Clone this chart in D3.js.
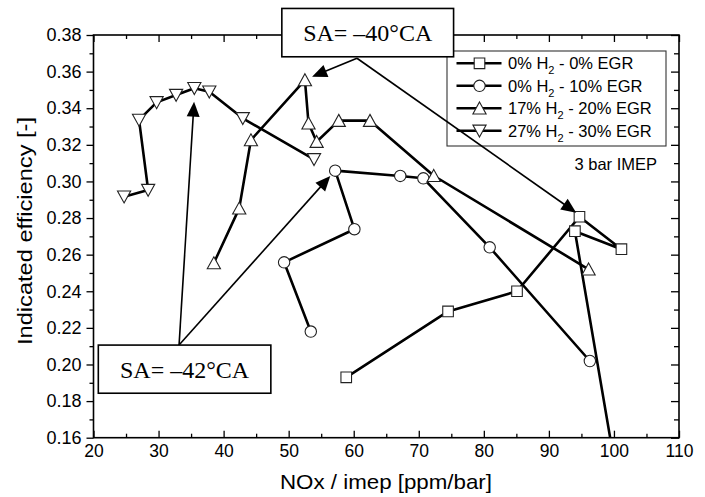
<!DOCTYPE html>
<html><head><meta charset="utf-8">
<script src="https://cdn.jsdelivr.net/npm/d3@7"></script>
<style>body{margin:0;background:#fff} svg{display:block}</style>
</head><body>
<svg id="chart" width="705" height="497"></svg>
<script>
// ---------- data ----------
const seriesLabels = ["0% H", "0% H", "17% H", "27% H"];
const seriesTails = [" - 0% EGR", " - 10% EGR", " - 20% EGR", " - 30% EGR"];
const seriesSymbols = ["square", "circle", "triUp", "triDown"];

const s1x = [58.85, 74.5, 85.1, 94.7, 101.15, 94.0, 99.9];
const s1y = [0.193, 0.229, 0.240, 0.2807, 0.263, 0.2728, 0.150];

const s2x = [53.4, 49.3, 60.1, 57.15, 67.15, 70.7, 80.9, 96.3];
const s2y = [0.218, 0.2558, 0.2739, 0.3059, 0.303, 0.3017, 0.264, 0.2019];

const s3x = [38.5, 42.4, 44.2, 52.5, 53.05, 54.3, 57.7, 62.5, 72.3, 96.1];
const s3y = [0.2554, 0.2853, 0.3226, 0.3554, 0.3318, 0.3217, 0.3332, 0.3332, 0.3031, 0.252];

const s4x = [24.7, 28.4, 27.0, 29.7, 32.7, 35.5, 37.8, 42.95, 53.9];
const s4y = [0.2917, 0.2953, 0.3336, 0.3432, 0.3472, 0.3509, 0.349, 0.3345, 0.3121];

const xMajorTicks = [20, 30, 40, 50, 60, 70, 80, 90, 100, 110];
const xMinorTicks = [25, 35, 45, 55, 65, 75, 85, 95, 105];
const yMajorTicks = [0.16, 0.18, 0.20, 0.22, 0.24, 0.26, 0.28, 0.30, 0.32, 0.34, 0.36, 0.38];
const yMinorTicks = [0.17, 0.19, 0.21, 0.23, 0.25, 0.27, 0.29, 0.31, 0.33, 0.35, 0.37];

const xTitle = "NOx / imep [ppm/bar]";
const yTitle = "Indicated efficiency [-]";
const noteText = "3 bar IMEP";

// annotation boxes (data units) with arrow targets
const annotations = [
  {label: "SA= \u201340\u00B0CA", x0: 48.95, x1: 75.35, yTop: 0.3945, yBot: 0.3681,
   ox: 60.5, oy: 0.3673, tips: [[53.6, 0.3572], [94.2, 0.2829]]},
  {label: "SA= \u201342\u00B0CA", x0: 20.74, x1: 47.26, yTop: 0.2106, yBot: 0.1843,
   ox: 33.15, oy: 0.2106, tips: [[35.46, 0.3436], [56.4, 0.303]]}
];

// ---------- chart ----------
const svg = d3.select("#chart");
const L = 93.5, R = 679, T = 35, B = 437.7;
const x = d3.scaleLinear().domain([20, 110]).range([L, R]);
const y = d3.scaleLinear().domain([0.16, 0.38]).range([B, T]);
const sans = "'Liberation Sans', Arial, Helvetica, sans-serif";
const serif = "'Liberation Serif', 'Times New Roman', serif";

svg.append("rect").attr("width", 705).attr("height", 497).attr("fill", "#fff");

svg.append("defs").append("clipPath").attr("id", "clip")
  .append("rect").attr("x", L).attr("y", T).attr("width", R - L).attr("height", B - T);

function styleAxis(g, fs) {
  g.select(".domain").remove();
  g.selectAll("line").attr("stroke", "#000").attr("stroke-width", 1.3);
  g.selectAll("text").attr("font-family", sans).attr("font-size", fs).attr("fill", "#000");
}

// bottom
svg.append("g").attr("transform", `translate(0,${B})`)
  .call(d3.axisBottom(x).tickValues(xMajorTicks).tickSize(-7).tickPadding(7).tickFormat(d3.format("d")))
  .call(g => styleAxis(g, 17.5));
svg.append("g").attr("transform", `translate(0,${B})`)
  .call(d3.axisBottom(x).tickValues(xMinorTicks).tickSize(-4).tickFormat(""))
  .call(g => styleAxis(g, 17.5));
// top
svg.append("g").attr("transform", `translate(0,${T})`)
  .call(d3.axisTop(x).tickValues(xMajorTicks).tickSize(-7).tickFormat(""))
  .call(g => styleAxis(g, 17.5));
svg.append("g").attr("transform", `translate(0,${T})`)
  .call(d3.axisTop(x).tickValues(xMinorTicks).tickSize(-4).tickFormat(""))
  .call(g => styleAxis(g, 17.5));
// left
svg.append("g").attr("transform", `translate(${L},0)`)
  .call(d3.axisLeft(y).tickValues(yMajorTicks).tickSize(7).tickPadding(5).tickFormat(d3.format(".2f")))
  .call(g => styleAxis(g, 18));
svg.append("g").attr("transform", `translate(${L},0)`)
  .call(d3.axisLeft(y).tickValues(yMinorTicks).tickSize(4).tickFormat(""))
  .call(g => styleAxis(g, 18));
// right
svg.append("g").attr("transform", `translate(${R},0)`)
  .call(d3.axisRight(y).tickValues(yMajorTicks).tickSize(-8).tickFormat(""))
  .call(g => styleAxis(g, 17.5));
svg.append("g").attr("transform", `translate(${R},0)`)
  .call(d3.axisRight(y).tickValues(yMinorTicks).tickSize(-5).tickFormat(""))
  .call(g => styleAxis(g, 17.5));

// frame
svg.append("rect").attr("x", L).attr("y", T).attr("width", R - L).attr("height", B - T)
  .attr("fill", "none").attr("stroke", "#000").attr("stroke-width", 1.6);

// titles
svg.append("text").attr("x", 386).attr("y", 489).attr("text-anchor", "middle")
  .attr("font-family", sans).attr("font-size", 21).attr("textLength", 212)
  .attr("lengthAdjust", "spacingAndGlyphs").text(xTitle);
svg.append("text").attr("transform", `translate(32,231) rotate(-90)`)
  .attr("text-anchor", "middle").attr("font-family", sans).attr("font-size", 21)
  .attr("textLength", 228).attr("lengthAdjust", "spacingAndGlyphs").text(yTitle);

// symbols
function symbolPath(kind) {
  if (kind === "square") return "M-5.3,-5.3H5.3V5.3H-5.3Z";
  if (kind === "circle") return "M5.7,0A5.7,5.7 0 1,1 -5.7,0A5.7,5.7 0 1,1 5.7,0Z";
  if (kind === "triUp") return "M0,-6.3L6.6,5.7L-6.6,5.7Z";
  return "M0,6.3L6.6,-5.7L-6.6,-5.7Z";
}

const allSeries = [[s1x, s1y], [s2x, s2y], [s3x, s3y], [s4x, s4y]];
const plot = svg.append("g").attr("clip-path", "url(#clip)");
const line = d3.line().x(d => x(d[0])).y(d => y(d[1]));

allSeries.forEach(([xs, ys], i) => {
  const pts = xs.map((v, k) => [v, ys[k]]);
  plot.append("path").attr("d", line(pts)).attr("fill", "none")
    .attr("stroke", "#000").attr("stroke-width", 2.6).attr("stroke-linejoin", "round");
});
allSeries.forEach(([xs, ys], i) => {
  const pts = xs.map((v, k) => [v, ys[k]]);
  plot.selectAll(null).data(pts).enter().append("path")
    .attr("transform", d => `translate(${x(d[0])},${y(d[1])})`)
    .attr("d", symbolPath(seriesSymbols[i]))
    .attr("fill", "#fff").attr("stroke", "#222").attr("stroke-width", 1.1);
});

// legend
const lg = svg.append("g");
lg.append("rect").attr("x", 447).attr("y", 51).attr("width", 219).attr("height", 95)
  .attr("fill", "#fff").attr("stroke", "#333").attr("stroke-width", 1.1);
seriesLabels.forEach((lab, i) => {
  const cy = 63.3 + i * 22.5;
  lg.append("line").attr("x1", 456.5).attr("x2", 501.5).attr("y1", cy).attr("y2", cy)
    .attr("stroke", "#000").attr("stroke-width", 2.6);
  lg.append("path").attr("transform", `translate(479.5,${cy})`).attr("d", symbolPath(seriesSymbols[i]))
    .attr("fill", "#fff").attr("stroke", "#222").attr("stroke-width", 1.1);
  const t = lg.append("text").attr("x", 508).attr("y", cy + 6)
    .attr("font-family", sans).attr("font-size", 16.5);
  t.append("tspan").text(lab);
  t.append("tspan").attr("font-size", 11).attr("dy", 5).text("2");
  t.append("tspan").attr("dy", -5).text(seriesTails[i]);
});

svg.append("text").attr("x", 657).attr("y", 170).attr("text-anchor", "end")
  .attr("font-family", sans).attr("font-size", 16.5).text(noteText);

// annotations
const ann = svg.append("g");
annotations.forEach(a => {
  const ox = x(a.ox), oy = y(a.oy);
  a.tips.forEach(([tx, ty]) => {
    const px = x(tx), py = y(ty);
    const dx = px - ox, dy = py - oy, len = Math.hypot(dx, dy);
    const ux = dx / len, uy = dy / len, nx = -uy, ny = ux;
    const hl = 15, hw = 6.5;
    ann.append("line").attr("x1", ox).attr("y1", oy)
      .attr("x2", px - ux * (hl - 2)).attr("y2", py - uy * (hl - 2))
      .attr("stroke", "#000").attr("stroke-width", 1.6);
    const bx = px - ux * hl, by = py - uy * hl;
    ann.append("path")
      .attr("d", `M${px},${py}L${bx + nx * hw},${by + ny * hw}L${bx - nx * hw},${by - ny * hw}Z`)
      .attr("fill", "#000");
  });
  const bx0 = x(a.x0), bx1 = x(a.x1), by0 = y(a.yTop), by1 = y(a.yBot);
  ann.append("rect").attr("x", bx0).attr("y", by0).attr("width", bx1 - bx0).attr("height", by1 - by0)
    .attr("fill", "#fff").attr("stroke", "#000").attr("stroke-width", 1.6);
  ann.append("text").attr("x", (bx0 + bx1) / 2).attr("y", by0 + 33).attr("text-anchor", "middle")
    .attr("font-family", serif).attr("font-size", 24).text(a.label);
});
</script>
</body></html>
